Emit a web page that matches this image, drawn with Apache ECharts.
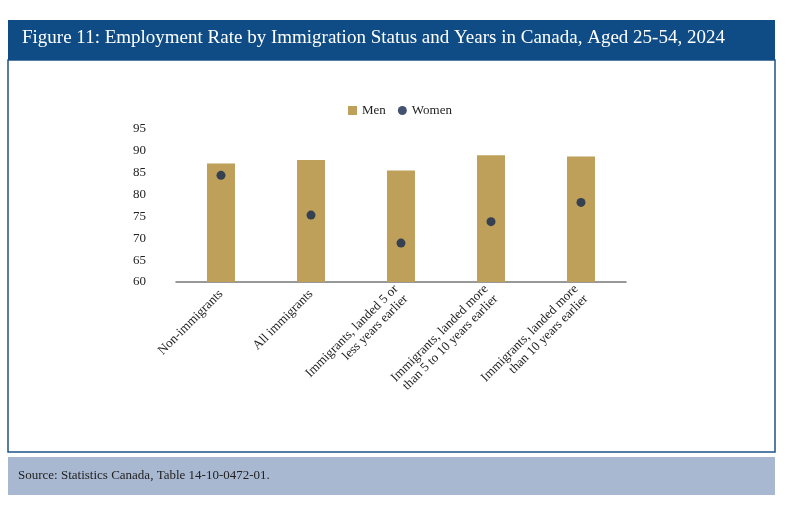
<!DOCTYPE html>
<html>
<head>
  <meta charset="utf-8">
  <title>Figure 11</title>
  <script src="https://cdn.jsdelivr.net/npm/echarts@6/dist/echarts.min.js"></script>
</head>
<body style="margin:0;background:#fff">
<div id="main" style="width:800px;height:517px;"></div>
<script type="text/javascript">
  var categories = ['Non-immigrants', 'All immigrants', 'Immigrants, landed 5 or\nless years earlier',
    'Immigrants, landed more\nthan 5 to 10 years earlier', 'Immigrants, landed more\nthan 10 years earlier'];
  var men = [87.1, 87.9, 85.5, 89.0, 88.7];
  var women = [84.4, 75.3, 68.9, 73.8, 78.2];

  var serif = '"Liberation Serif", "DejaVu Serif", serif';
  var myChart = echarts.init(document.getElementById('main'));

  var option = {
    textStyle: { fontFamily: serif },
    graphic: [
      { type: 'rect', shape: { x: 8, y: 60, width: 767, height: 392 }, style: { fill: '#fff', stroke: '#1d5488', lineWidth: 1.5 }, z: -1 },
      { type: 'rect', shape: { x: 8, y: 20, width: 767, height: 40 }, style: { fill: '#0f4c85' } },
      { type: 'text', left: 22, top: 29, style: { text: 'Figure 11: Employment Rate by Immigration Status and Years in Canada, Aged 25-54, 2024', fill: '#fff', font: '19px ' + serif } },
      { type: 'rect', shape: { x: 8, y: 457, width: 767, height: 38 }, style: { fill: '#a9b8d1' } },
      { type: 'text', left: 18, top: 469, style: { text: 'Source: Statistics Canada, Table 14-10-0472-01.', fill: '#222', font: '13px ' + serif } }
    ],
    legend: {
      top: 99, left: 'center', itemGap: 12, itemWidth: 9, itemHeight: 9,
      textStyle: { fontFamily: serif, fontSize: 13, color: '#222' },
      data: [{ name: 'Men', icon: 'rect' }, { name: 'Women', icon: 'circle' }]
    },
    grid: { left: 176, top: 129, width: 450, height: 153 },
    xAxis: {
      type: 'category', data: categories,
      axisLine: { lineStyle: { color: '#777', width: 1.5 } },
      axisTick: { show: false },
      axisLabel: { rotate: 45, interval: 0, color: '#222', fontFamily: serif, fontSize: 13, lineHeight: 14, margin: 10 }
    },
    yAxis: {
      type: 'value', min: 60, max: 95, interval: 5,
      splitLine: { show: false }, axisLine: { show: false }, axisTick: { show: false },
      axisLabel: { color: '#222', fontFamily: serif, fontSize: 13, margin: 30 }
    },
    series: [
      { name: 'Men', type: 'bar', data: men, barWidth: 28, itemStyle: { color: '#bea05a' } },
      { name: 'Women', type: 'scatter', data: women, symbolSize: 9, itemStyle: { color: '#13284f' } }
    ]
  };
  myChart.setOption(option);
</script>
</body>
</html>
